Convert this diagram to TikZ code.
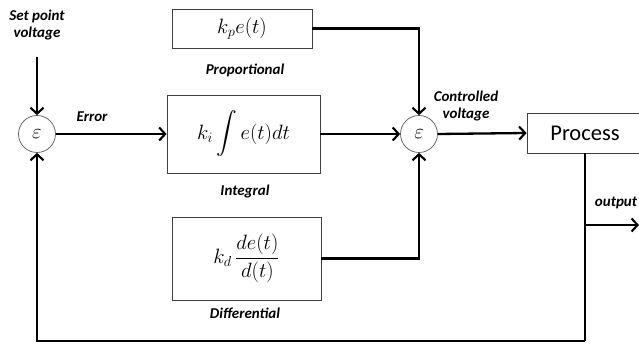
\documentclass[tikz,border=0pt]{standalone}
\usepackage{amsmath}
\usepackage{fontspec}
\setsansfont{Carlito}
\usetikzlibrary{arrows.meta}
\begin{document}
\begin{tikzpicture}[x=1pt,y=-1pt,
  blk/.style={draw=black!75,line width=0.8pt,inner sep=0pt,minimum width=#1},
  sumc/.style={circle,draw=black!65,line width=0.7pt,minimum size=37pt,inner sep=0pt,font=\fontsize{20}{24}\selectfont},
  lbl/.style={font=\sffamily\bfseries\itshape\fontsize{15}{17.5}\selectfont,align=center,inner sep=0pt},
  mth/.style={font=\fontsize{22}{26}\selectfont},
  wire/.style={line width=2.3pt,-{Straight Barb[length=6pt,width=13pt,line width=2.1pt]}},
  plain/.style={line width=2.3pt}]
\useasboundingbox (0,0) rectangle (639,344);
\node[lbl] (sp) at (37,25) {Set point\\voltage};
\coordinate (sptop) at (37,57);
\node[sumc] (e1) at (37,134) {$\varepsilon$};
\node[lbl] (err) at (92,117) {Error};
\node[blk=140pt,minimum height=39pt,mth] (kp) at (242,28.5) {$k_p e(t)$};
\node[lbl] (lp) at (245,70) {Proportional};
\node[blk=153pt,minimum height=78pt,mth] (ki) at (243.5,134) {$k_i \displaystyle\int e(t)dt$};
\node[lbl] (li) at (245,192) {Integral};
\node[blk=149pt,minimum height=83pt,mth] (kd) at (246.5,258.5) {$k_d\, \dfrac{de(t)}{d(t)}$};
\node[lbl] (ld) at (245,313) {Differential};
\node[sumc] (e2) at (419,134) {$\varepsilon$};
\node[lbl] (cv) at (466,106) {Controlled\\voltage};
\node[blk=116pt,minimum height=40pt,font=\sffamily\fontsize{22.5}{26}\selectfont] (proc) at (585,133) {Process};
\coordinate (o1) at (585,225);
\coordinate (o2) at (639,225);
\coordinate (fb) at (585,341);
\node[lbl] (out) at (616,203) {output};
\draw[wire] (sptop) -- (e1.north);
\draw[wire] (e1.east) -- (ki.west);
\draw[wire] (kp.east) -| (e2.north);
\draw[wire] (ki.east) -- (e2.west);
\draw[wire] (kd.east) -| (e2.south);
\draw[wire] (e2.east) -- (proc.west);
\draw[plain] (proc.south) -- (fb);
\draw[wire] (fb) -| (e1.south);
\draw[wire] (o1) -- (o2);
\end{tikzpicture}
\end{document}
